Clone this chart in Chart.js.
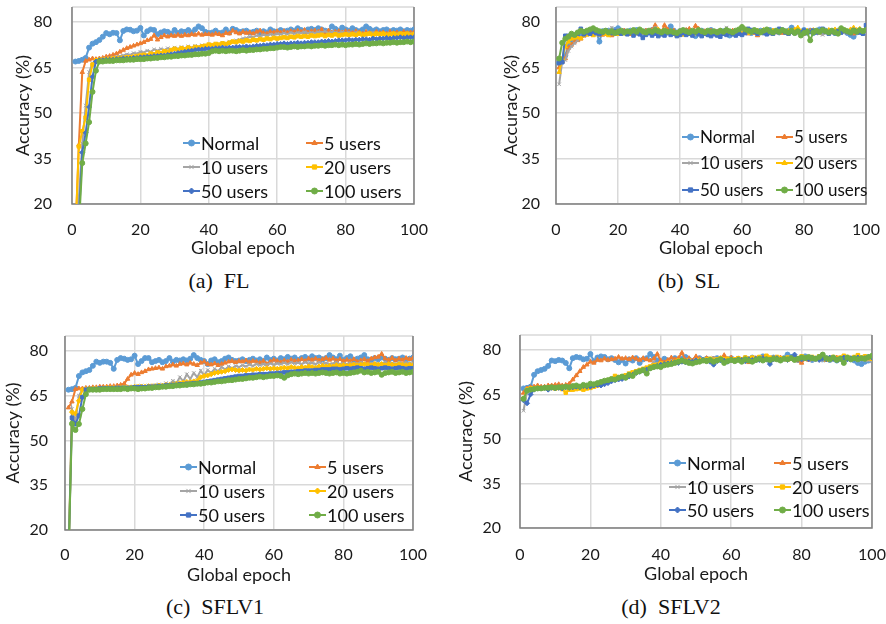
<!DOCTYPE html>
<html lang="en">
<head>
<meta charset="UTF-8" />
<title>Accuracy vs global epoch</title>
<script src="https://cdn.jsdelivr.net/npm/chart.js"></script>
<style>
  body { margin: 0; background: #fff; }
  #page { position: relative; width: 886px; height: 624px; overflow: hidden; }
  .panel { position: absolute; }
  .cap {
    position: absolute; transform: translate(-50%, -50%); white-space: pre;
    font-family: "Liberation Serif", "Times New Roman", serif; font-size: 22px; color: #111;
  }
</style>
</head>
<body>
<div id="page">
  <div class="panel" id="pa"><canvas id="ca"></canvas></div>
  <div class="panel" id="pb"><canvas id="cb"></canvas></div>
  <div class="panel" id="pc"><canvas id="cc"></canvas></div>
  <div class="panel" id="pd"><canvas id="cd"></canvas></div>
  <div class="cap" style="left:219px;top:281px">(a)  FL</div>
  <div class="cap" style="left:689px;top:281px">(b)  SL</div>
  <div class="cap" style="left:215px;top:607px">(c)  SFLV1</div>
  <div class="cap" style="left:671px;top:607px">(d)  SFLV2</div>
</div>
<script>
const epochs = Array.from({ length: 100 }, (_, i) => i + 1);
const seriesNames = ["Normal", "5 users", "10 users", "20 users", "50 users", "100 users"];
const xTicks = [0, 20, 40, 60, 80, 100];
const yTicks = [20, 35, 50, 65, 80];

// (a) FL
const flNormal = [67.0,67.2,67.6,68.2,71.6,72.9,73.4,74.1,75.2,76.4, 76.0,76.5,76.4,74.0,77.1,77.6,77.5,77.0,77.2,78.1,
  75.6,77.0,77.6,77.4,76.0,76.6,77.0,76.8,76.2,77.4, 76.4,77.0,76.8,77.4,76.6,77.6,78.6,78.0,76.8,76.4,
  76.6,77.2,76.4,76.6,77.6,76.6,77.8,77.4,76.8,77.0, 77.2,76.6,76.8,77.2,76.4,77.0,76.6,77.6,77.0,76.8,
  77.4,77.0,77.2,77.6,77.2,78.0,77.4,77.0,77.6,77.8, 77.4,78.0,77.6,77.2,77.0,78.6,77.8,77.2,78.2,77.6,
  77.2,78.0,77.4,77.0,77.6,78.6,77.8,77.2,77.6,77.0, 77.4,77.6,77.0,77.4,77.2,77.6,77.0,77.4,77.2,77.6];
const fl5 = [10,39.5,63.5,67.2,67.6,68.0,67.8,68.0,68.2,68.6, 68.8,69.2,69.6,70.2,70.8,71.4,71.8,72.2,72.6,73.0,
  73.4,74.0,74.4,75.6,74.2,75.0,75.6,75.2,75.6,75.4, 75.8,75.4,75.8,75.6,76.0,75.8,76.2,75.8,76.0,76.0,
  75.8,76.2,76.0,75.6,76.4,76.2,77.2,76.6,76.2,76.8, 76.4,76.6,76.2,76.8,77.2,76.4,76.2,76.8,76.6,77.0,
  76.6,77.0,76.6,77.0,76.8,77.2,76.8,77.4,76.6,77.0, 77.2,76.8,77.6,76.4,77.2,76.6,76.8,77.0,76.6,77.0,
  76.8,76.4,77.0,76.6,76.2,76.8,76.4,76.2,76.8,76.4, 76.6,76.2,76.8,76.4,76.6,76.2,76.8,76.4,76.6,76.6];
const fl10 = [10,22,40,52.5,63.5,66.5,67.4,67.6,67.8,68.0, 68.2,68.4,68.6,68.8,69.0,69.4,69.2,69.8,69.6,70.2,
  70.0,70.6,70.2,71.0,70.6,71.2,70.8,71.4,71.0,71.6, 71.2,71.8,71.4,72.0,71.6,72.2,71.8,72.4,72.0,72.6,
  72.2,72.8,72.6,73.2,72.8,73.6,73.4,74.0,74.2,74.6, 74.8,75.2,75.0,75.6,75.4,75.8,75.6,76.0,75.8,76.2,
  76.0,76.4,76.0,76.6,76.2,76.6,76.4,76.8,76.4,76.6, 76.4,76.8,76.6,77.0,76.4,76.8,76.6,76.4,76.8,76.4,
  76.6,76.2,76.6,76.4,76.0,76.4,76.2,76.6,76.0,76.4, 76.2,76.0,76.4,76.0,76.2,75.8,76.2,76.0,76.2,76.0];
const fl20 = [10,39.0,44,48.5,61.0,66.0,67.4,67.6,67.6,67.8, 67.8,68.0,68.0,68.2,68.2,68.4,68.4,68.6,68.8,69.0,
  69.2,69.0,69.6,69.4,70.0,69.8,70.4,70.2,70.8,71.2, 70.8,71.4,71.0,71.6,71.2,71.8,71.6,72.0,72.2,72.6,
  72.4,72.8,72.6,73.0,72.8,73.2,73.6,73.4,73.8,73.6, 74.0,73.8,74.2,74.0,74.4,74.2,74.6,74.4,74.8,74.6,
  74.8,75.0,74.8,75.2,75.0,75.4,75.2,75.4,75.2,75.6, 75.4,75.6,75.8,75.4,75.8,75.6,76.0,75.6,75.8,76.0,
  75.8,76.0,75.8,76.2,75.8,76.0,76.2,75.8,76.2,76.0, 76.2,75.8,76.0,76.2,75.8,76.2,76.0,76.2,75.8,76.0];
const fl50 = [10,15,37.0,43.5,52.0,62.0,67.0,67.4,67.4,67.6, 67.6,67.6,67.8,67.8,68.0,68.0,68.0,68.2,68.2,68.4,
  68.4,68.6,68.6,68.8,68.8,69.0,69.0,69.2,69.4,69.6, 69.8,70.0,70.2,70.4,70.6,70.8,71.0,71.0,71.2,71.2,
  71.2,71.4,71.4,71.6,71.4,71.6,71.6,71.8,71.8,71.8, 72.0,71.8,72.0,72.2,72.2,72.4,72.4,72.6,72.6,72.8,
  72.8,73.0,72.8,73.0,73.0,73.2,73.0,73.2,73.2,73.4, 73.4,73.4,73.6,73.6,73.8,73.6,73.8,74.0,74.0,74.0,
  74.2,74.0,74.2,74.2,74.4,74.4,74.2,74.6,74.4,74.6, 74.6,74.8,74.6,74.8,74.8,75.0,74.8,75.0,75.0,75.0];
const fl100 = [10,12,33.5,40.0,47.0,57.0,64.0,67.0,67.0,67.2, 67.2,67.2,67.4,67.4,67.4,67.6,67.6,67.6,67.8,67.8,
  67.8,68.0,68.0,68.2,68.2,68.4,68.4,68.6,68.6,68.8, 68.8,69.0,69.0,69.2,69.2,69.4,69.4,69.6,69.6,69.8,
  70.4,70.6,70.4,70.6,70.4,70.6,70.6,70.4,70.6,70.8, 70.6,70.8,70.8,71.0,71.0,71.2,71.2,71.4,71.4,71.6,
  71.8,71.8,71.6,71.8,72.0,71.8,72.0,72.0,72.2,72.0, 72.2,72.2,72.4,72.2,72.4,72.4,72.6,72.4,72.6,72.4,
  72.6,72.6,72.8,72.6,72.8,73.0,72.8,73.0,73.0,73.2, 73.0,73.2,73.2,73.4,73.2,73.4,73.4,73.6,73.4,73.6];

// (b) SL
const slNormal = [66.5,67.0,69.0,72.5,73.5,74.5,75.0,76.0,76.5,76.8, 76.5,77.2,76.8,73.6,77.0,76.8,77.2,76.6,77.4,78.0,
  76.8,77.0,76.4,77.2,76.6,77.4,76.8,76.2,77.0,76.6, 77.4,76.8,77.2,76.4,77.0,76.6,78.6,77.2,76.4,77.0,
  76.6,77.2,76.8,76.2,75.4,76.8,77.2,76.4,76.0,77.4, 76.6,76.8,76.2,77.0,76.6,75.6,76.8,76.2,77.0,76.4,
  76.8,77.2,76.4,77.0,76.6,77.2,76.8,76.4,77.4,76.8, 77.0,76.6,77.4,76.8,77.2,78.2,76.6,77.0,76.8,77.4,
  76.6,77.2,76.4,77.0,77.6,76.8,77.2,76.6,77.0,76.4, 77.2,76.8,77.0,76.4,75.8,75.2,76.6,77.0,76.4,77.0];
const sl5 = [65.0,67.0,68.0,71.5,72.5,73.5,74.0,74.5,75.5,76.0, 76.4,76.0,76.6,76.2,75.8,76.4,76.0,75.6,76.2,77.0,
  76.4,77.2,76.6,76.0,76.8,76.2,77.0,76.6,77.2,76.8, 77.4,79.0,77.2,76.8,79.0,77.6,76.8,77.2,76.4,77.0,
  76.6,77.4,77.8,76.6,78.8,77.8,76.6,77.0,76.4,77.2, 76.0,76.8,77.2,76.4,77.0,76.6,77.2,76.8,76.4,77.0,
  76.6,76.2,76.8,76.4,75.6,76.6,77.0,76.4,76.8,77.2, 76.6,77.0,76.4,76.8,76.2,76.8,77.4,77.0,76.6,76.2,
  76.8,77.2,76.6,77.0,76.4,77.4,76.8,77.2,76.6,77.0, 76.4,76.8,77.2,76.6,77.0,76.2,76.8,77.4,76.6,77.0];
const sl10 = [59.5,67.0,67.5,70.5,72.0,73.0,74.0,75.0,75.5,76.0, 76.6,76.2,76.8,76.4,77.0,76.6,77.2,78.2,76.8,77.2,
  76.6,77.0,76.4,76.8,77.2,76.6,77.0,76.4,77.2,76.8, 77.4,78.2,77.0,76.6,77.2,76.8,77.0,76.4,76.8,77.2,
  76.6,77.0,76.4,77.2,76.8,76.2,77.0,76.6,77.2,76.8, 77.0,76.4,76.8,77.2,78.2,76.8,77.0,76.4,76.8,77.2,
  76.6,77.0,76.4,76.8,77.2,76.6,77.0,76.4,76.0,76.6, 77.0,76.6,77.2,76.8,76.4,77.0,76.6,76.2,76.8,76.4,
  77.0,76.6,77.2,76.8,76.2,75.8,76.4,77.0,76.6,77.2, 76.8,77.2,76.6,77.0,76.4,76.8,77.2,76.6,77.0,76.4];
const sl20 = [63.5,68.0,72.0,73.5,74.5,74.8,75.0,74.6,75.6,75.8, 76.0,75.6,76.2,75.8,76.4,76.0,75.6,76.2,76.4,76.0,
  76.6,76.2,76.8,76.4,76.0,76.6,76.2,76.8,76.4,77.0, 76.6,77.2,77.6,76.8,77.2,76.6,77.0,76.4,75.6,76.2,
  75.8,76.4,76.0,76.6,76.2,76.8,76.4,76.0,76.6,76.2, 76.8,76.4,77.0,76.6,76.2,76.8,76.4,76.0,76.6,76.2,
  76.8,76.4,77.0,76.6,77.2,76.8,77.4,77.0,76.6,77.2, 76.8,77.4,77.0,76.6,77.2,76.8,77.6,78.2,77.0,76.6,
  77.2,76.8,77.4,77.0,76.6,77.2,76.8,77.4,77.0,77.6, 77.2,76.8,77.4,77.0,77.6,78.2,77.4,77.8,77.2,77.6];
const sl50 = [66.5,66.8,75.5,75.5,76.0,75.8,76.2,77.8,76.0,76.6, 76.2,76.8,76.4,76.0,76.6,77.2,76.8,76.4,77.0,76.6,
  76.2,76.8,76.0,76.6,75.6,76.4,76.0,74.8,75.8,76.4, 75.6,76.2,75.4,76.0,75.6,76.4,75.8,76.2,75.4,75.8,
  76.4,75.8,76.2,75.6,76.6,76.0,75.4,76.2,75.8,75.4, 76.0,75.6,75.2,76.2,75.8,76.4,76.0,75.6,76.2,75.8,
  76.4,77.8,77.4,76.8,76.2,76.8,76.4,76.0,76.6,76.2, 76.8,77.8,77.2,76.6,76.2,76.8,76.4,77.0,76.6,77.2,
  76.4,76.8,77.2,76.6,77.0,77.8,76.8,76.2,76.8,76.4, 77.0,76.6,77.2,76.8,76.4,77.4,77.0,76.6,76.2,79.0];
const sl100 = [68.0,73.2,74.5,75.2,76.2,75.8,76.6,77.2,76.8,77.2, 77.6,78.0,77.4,77.0,76.8,77.2,76.6,77.0,76.4,76.8,
  77.2,76.6,77.0,76.8,77.4,76.8,77.6,77.0,76.6,77.2, 76.8,77.4,77.0,76.6,77.2,76.8,77.0,76.6,76.4,77.0,
  77.4,77.0,76.6,77.2,76.8,77.4,77.0,76.6,77.2,76.8, 77.0,76.6,77.2,76.8,77.4,77.0,76.6,77.2,77.6,78.4,
  77.6,77.2,76.8,77.4,77.0,76.6,77.2,77.6,77.0,76.6, 77.2,76.8,77.4,77.0,76.6,77.2,76.4,77.0,75.6,76.4,
  76.8,74.0,76.6,77.2,76.8,77.4,77.0,76.6,77.2,76.6, 76.2,78.0,77.4,77.0,76.6,77.2,76.8,77.4,77.0,77.4];

// (c) SFLV1
const v1Normal = [67.0,67.2,67.6,71.6,72.8,73.2,73.6,75.0,76.4,76.0, 76.4,76.4,76.0,74.0,77.0,77.6,77.4,77.0,77.2,78.4,
  75.6,76.6,77.6,77.6,76.2,76.6,77.0,76.2,76.6,77.6, 76.4,77.0,76.8,77.2,76.8,77.4,78.6,77.6,77.0,76.6,
  75.6,76.8,77.2,76.2,76.6,77.4,77.8,77.0,76.6,76.8, 77.2,76.6,77.0,77.4,76.8,77.2,76.6,77.8,77.0,77.4,
  76.8,77.6,77.2,78.0,77.4,77.8,77.0,77.6,78.0,77.4, 78.2,77.6,77.8,77.2,77.6,78.6,77.8,77.2,78.4,77.0,
  77.6,78.2,77.0,77.4,77.8,78.6,77.2,77.0,77.6,77.2, 77.8,77.4,77.0,77.6,77.2,77.4,77.8,77.0,77.4,77.8];
const v15 = [61.0,63.0,67.2,67.4,67.4,67.6,67.6,67.8,67.8,68.0, 68.0,68.0,68.2,68.2,68.4,68.6,69.0,70.6,72.0,72.6,
  72.2,72.8,73.2,73.8,74.0,74.2,74.4,74.0,74.8,75.0, 75.4,75.0,75.6,75.8,75.4,76.0,75.6,75.2,76.0,76.4,
  75.6,75.4,75.8,75.2,75.6,76.0,76.4,76.6,76.2,76.6, 76.4,76.8,76.2,76.6,76.4,76.0,76.6,75.6,76.4,77.0,
  76.6,76.2,76.8,76.4,77.0,76.6,76.8,77.2,76.6,77.4, 77.0,77.4,76.8,77.2,77.6,77.0,77.4,76.8,77.2,76.6,
  77.0,76.6,77.2,76.4,76.8,77.2,76.6,77.4,77.8,78.0, 79.0,77.4,77.0,77.6,76.8,77.4,77.0,77.6,77.2,77.6];
const v110 = [10,60.5,56.0,65.0,67.0,67.4,67.4,67.4,67.6,67.6, 67.6,67.6,67.8,67.8,67.8,67.8,68.0,67.8,68.0,68.0,
  68.2,68.4,68.0,68.4,68.2,68.6,68.8,68.4,69.2,68.8, 70.0,69.2,71.2,69.8,72.2,70.6,72.6,71.2,73.4,71.8,
  73.6,72.6,74.0,73.2,74.6,73.8,74.8,74.2,75.0,74.6, 75.2,74.8,75.4,75.0,75.6,75.2,75.6,75.4,75.8,75.4,
  75.8,75.6,76.0,75.6,76.2,75.8,76.0,75.6,76.2,75.8, 76.0,75.6,76.2,75.8,76.0,75.6,75.8,76.2,75.6,75.8,
  75.6,76.0,75.6,75.8,76.2,75.8,75.4,75.8,76.0,75.6, 75.8,76.2,75.8,76.0,75.6,76.0,75.8,76.2,75.8,76.0];
const v120 = [10,59.5,59.0,63.3,67.0,67.2,67.2,67.4,67.4,67.4, 67.4,67.6,67.6,67.6,67.6,67.8,67.8,67.8,67.8,68.0,
  68.0,68.0,68.0,68.2,68.2,68.2,68.4,68.4,68.6,68.6, 68.8,69.0,69.2,69.4,69.6,69.6,69.8,70.0,71.2,71.6,
  71.8,72.2,72.6,72.8,73.0,73.2,73.6,73.8,73.6,73.4, 73.6,73.4,73.8,73.6,74.0,73.8,74.0,74.2,74.0,74.2,
  74.0,74.2,74.4,74.2,74.6,74.4,74.2,74.6,74.4,74.8, 74.6,74.4,74.8,75.0,74.8,75.0,74.8,75.2,75.0,75.2,
  75.0,75.2,75.4,75.2,75.4,75.6,75.4,75.2,75.6,75.4, 75.6,75.2,75.6,75.4,75.2,75.6,75.4,75.2,75.4,75.2];
const v150 = [10,57.6,55.5,58.3,64.5,67.0,67.2,67.2,67.2,67.4, 67.4,67.4,67.4,67.4,67.6,67.6,67.6,67.6,67.6,67.8,
  67.8,67.8,67.8,68.0,68.0,68.0,68.2,68.2,68.4,68.4, 68.6,68.6,68.8,68.8,69.0,69.0,69.2,69.2,69.4,69.6,
  69.8,70.0,70.2,70.4,70.6,70.8,71.0,71.2,71.4,71.6, 71.6,71.8,71.8,72.0,72.0,72.2,72.2,72.2,72.4,72.4,
  72.6,72.6,72.8,72.8,73.0,73.0,73.2,73.2,73.4,73.4, 73.4,73.6,73.6,73.8,73.8,73.8,74.0,74.0,73.8,74.0,
  74.2,74.0,74.2,74.4,74.2,74.0,74.2,74.4,74.2,74.0, 74.2,74.4,74.2,74.0,74.2,74.4,74.2,74.0,74.2,74.2];
const v1100 = [10,55.6,53.5,55.5,60.5,65.5,67.0,67.0,67.0,67.0, 67.2,67.2,67.2,67.2,67.2,67.2,67.4,67.2,67.4,67.4,
  67.2,67.4,67.4,67.6,67.6,67.8,67.8,68.0,68.0,68.2, 68.2,68.4,68.4,68.6,68.6,68.8,68.8,69.0,69.0,69.2,
  69.4,69.4,69.6,69.8,69.8,70.0,70.2,70.2,70.4,70.6, 70.6,70.8,71.0,71.0,71.2,71.4,71.2,71.4,71.6,71.6,
  71.8,71.6,71.0,71.8,72.2,72.4,72.2,72.4,72.6,72.4, 72.6,72.4,72.6,72.8,72.6,72.4,72.6,72.8,72.4,72.6,
  72.4,72.6,72.8,73.0,73.4,72.8,73.0,72.6,72.8,73.0, 72.0,72.6,72.8,73.0,72.6,72.8,73.0,72.6,72.8,73.0];

// (d) SFLV2
const v2Normal = [67.0,67.2,67.6,71.6,72.8,73.2,73.6,74.6,76.4,76.2, 76.6,76.4,75.6,73.8,77.2,77.6,77.4,76.8,77.0,78.6,
  76.2,77.4,77.8,77.6,76.8,77.2,76.6,75.8,76.6,75.4, 76.8,76.4,77.2,75.6,76.8,77.2,78.6,77.6,76.4,76.0,
  77.0,76.4,75.8,77.2,76.6,77.0,77.6,76.8,76.2,77.0, 77.2,76.6,77.0,76.4,76.8,77.2,76.6,76.2,76.8,77.2,
  76.6,77.0,76.4,77.2,76.8,77.4,76.6,77.0,77.8,77.2, 76.8,77.4,77.0,76.6,77.2,78.4,77.6,77.0,76.6,77.4,
  77.8,77.2,76.6,77.0,77.4,76.8,77.2,76.6,77.0,76.4, 77.0,76.6,77.2,76.8,76.4,75.6,75.2,76.0,76.4,76.8];
const v25 = [65.5,67.0,67.4,67.6,68.0,67.6,67.6,68.0,68.0,68.2, 68.4,68.0,68.2,68.6,70.0,71.4,72.8,74.2,75.0,76.0,
  75.6,76.6,76.4,77.0,76.6,76.8,77.0,77.6,77.0,77.2, 76.8,77.4,77.0,76.6,77.2,76.8,76.4,77.0,78.6,76.4,
  75.8,76.6,77.4,76.8,77.2,79.0,76.6,77.2,76.4,77.8, 77.0,76.4,77.2,76.8,77.0,76.6,77.2,78.2,76.8,77.4,
  76.6,77.0,76.4,77.2,75.8,76.6,77.2,76.8,77.4,77.0, 76.6,77.2,76.8,77.4,77.0,76.6,77.2,76.8,76.4,75.6,
  77.0,76.6,77.2,76.8,77.4,77.0,76.6,77.2,76.8,77.4, 77.0,76.6,77.2,76.8,77.4,77.8,77.2,77.6,77.0,77.2];
const v210 = [59.5,66.0,66.6,66.8,67.0,67.0,67.2,67.2,67.2,67.4, 67.4,67.4,67.6,67.6,67.8,67.8,68.0,68.0,68.2,68.4,
  68.4,68.6,68.8,69.0,69.4,69.8,70.2,70.6,71.0,71.6, 72.0,72.4,72.8,73.2,73.6,74.0,74.4,76.0,74.8,75.2,
  75.4,75.6,75.8,76.0,75.8,76.2,76.0,76.4,76.2,76.6, 76.4,76.8,76.6,76.4,77.4,76.8,76.6,77.0,76.8,76.4,
  76.8,77.0,76.6,76.8,77.0,76.6,76.8,77.2,76.8,77.0, 76.6,76.8,77.0,76.6,76.8,77.2,76.8,76.6,77.0,76.8,
  77.2,76.8,76.6,77.0,76.8,76.4,76.8,77.0,76.6,76.8, 77.0,76.6,76.8,77.2,76.8,76.4,76.8,76.6,76.4,76.2];
const v220 = [63.5,66.6,67.0,67.0,67.2,67.0,67.2,67.0,67.2,67.0, 67.2,66.8,65.6,66.6,66.6,66.8,67.0,66.6,67.0,67.2,
  67.6,68.0,68.6,69.2,69.8,70.2,71.2,70.8,71.0,71.4, 72.0,72.4,72.8,73.2,73.6,74.0,74.4,74.8,75.0,75.4,
  75.2,75.6,75.8,76.0,76.4,76.2,76.0,76.4,75.8,76.2, 76.6,76.4,76.8,77.0,76.6,76.8,77.2,76.8,77.0,76.6,
  76.8,77.2,76.8,77.4,77.0,77.4,77.0,77.6,77.2,78.0, 77.4,77.0,77.6,77.2,77.0,77.4,77.0,77.6,77.2,77.8,
  77.4,77.0,77.6,77.2,77.8,77.4,76.8,77.2,77.6,77.0, 77.4,78.0,77.6,77.2,77.6,78.2,77.4,77.8,77.2,77.0];
const v250 = [63.0,62.0,65.0,66.6,67.0,67.0,67.2,66.6,67.2,67.0, 67.2,67.0,67.4,67.2,67.4,67.6,67.4,67.8,67.6,67.6,
  68.0,68.2,68.0,68.4,68.8,69.4,69.8,70.0,70.2,70.6, 71.0,71.6,72.2,72.6,73.0,73.4,73.8,74.2,74.6,75.0,
  75.2,75.4,75.6,75.8,75.6,76.0,75.8,76.2,76.0,76.4, 76.2,76.6,76.4,76.0,75.0,76.2,76.6,76.4,76.0,76.6,
  76.4,76.8,76.6,76.2,76.8,76.6,77.0,76.6,77.2,76.8, 75.2,76.8,77.2,76.6,77.0,76.6,77.2,78.4,77.0,76.8,
  77.2,76.8,77.4,77.0,76.6,77.2,76.8,77.4,77.0,76.6, 77.0,77.4,76.8,77.2,77.0,77.4,77.0,77.2,77.6,77.4];
const v2100 = [63.5,66.2,66.6,66.8,67.0,67.0,67.2,67.2,67.4,67.2, 67.4,67.4,67.6,67.4,67.8,68.0,67.6,68.2,68.0,68.6,
  68.4,68.8,69.2,69.6,69.8,70.2,70.0,70.6,71.0,70.6, 71.6,71.2,72.4,72.8,73.2,72.0,73.8,74.2,74.4,74.2,
  74.8,75.0,75.2,75.6,76.0,76.4,76.0,75.6,75.4,75.8, 76.0,76.4,76.2,76.6,76.0,76.4,76.8,75.6,76.2,76.6,
  76.2,76.6,76.0,76.8,76.4,76.0,76.6,77.0,76.4,76.8, 76.6,77.0,76.8,76.4,77.0,76.8,77.2,76.6,77.0,77.4,
  77.2,77.6,77.2,77.0,77.6,78.4,77.2,76.8,77.4,76.6, 77.0,75.6,77.4,76.8,77.2,76.8,77.2,77.0,77.6,78.0];

const colors = ["#5b9bd5", "#ed7d31", "#a5a5a5", "#ffc000", "#4472c4", "#70ad47"];

Chart.defaults.font.family = "Lato, 'Open Sans', sans-serif";
Chart.defaults.color = "#1a1a1a";

// box round the plot area: light top edge, darker left/right/bottom
const frame = {
  id: "frame",
  beforeDatasetsDraw(chart) {
    const { ctx, chartArea: a } = chart;
    ctx.save();
    ctx.lineWidth = 1.5;
    ctx.strokeStyle = "#d9d9d9";
    ctx.beginPath(); ctx.moveTo(a.left, a.top); ctx.lineTo(a.right, a.top); ctx.stroke();
    ctx.strokeStyle = "#7f7f7f";
    ctx.beginPath();
    ctx.moveTo(a.left, a.top); ctx.lineTo(a.left, a.bottom);
    ctx.lineTo(a.right, a.bottom); ctx.lineTo(a.right, a.top);
    ctx.stroke();
    ctx.restore();
  }
};

// two-column legend inside the plot, lower right
const gridLegend = {
  id: "gridLegend",
  afterDatasetsDraw(chart, args, opts) {
    const { ctx, chartArea: a } = chart;
    ctx.save();
    ctx.font = opts.size + "px Lato, 'Open Sans', sans-serif";
    ctx.textBaseline = "middle";
    ctx.textAlign = "left";
    chart.data.datasets.forEach((ds, i) => {
      const x = a.right + (i % 2 ? opts.c2 : opts.c1);
      const y = a.bottom + opts.rows[Math.floor(i / 2)];
      ctx.strokeStyle = ds.borderColor;
      ctx.fillStyle = ds.borderColor;
      ctx.lineWidth = 2;
      ctx.beginPath(); ctx.moveTo(x, y); ctx.lineTo(x + 17, y); ctx.stroke();
      ctx.lineWidth = 1;
      Chart.helpers.drawPoint(ctx, { pointStyle: ds.pointStyle, radius: 3, borderWidth: 1, rotation: 0 }, x + 8.5, y);
      ctx.fillStyle = "#111";
      ctx.fillText(ds.label, x + 18, y + 1);
    });
    ctx.restore();
  }
};

const panels = [
  { el: "pa", canvas: "ca", pos: [0, 0, 443, 262], padTop: 7, padRight: 29, yW: 72, xH: 58,
    yTickPad: 20, yTitlePad: 12, xTickPad: 16,
    series: [flNormal, fl5, fl10, fl20, fl50, fl100],
    markers: ["circle", "triangle", "crossRot", "rect", "rectRot", "circle"],
    legend: { c1: -231, c2: -108, rows: [-61, -37, -13], size: 18 } },
  { el: "pb", canvas: "cb", pos: [443, 0, 443, 262], padTop: 7, padRight: 20, yW: 113, xH: 58,
    yTickPad: 16, yTitlePad: 57, xTickPad: 16,
    series: [slNormal, sl5, sl10, sl20, sl50, sl100],
    markers: ["circle", "triangle", "crossRot", "triangle", "rect", "circle"],
    legend: { c1: -184, c2: -90, rows: [-67, -41, -14], size: 17 } },
  { el: "pc", canvas: "cc", pos: [0, 320, 443, 269], padTop: 16, padRight: 30, yW: 65, xH: 59,
    yTickPad: 17, yTitlePad: 2, xTickPad: 15,
    series: [v1Normal, v15, v110, v120, v150, v1100],
    markers: ["circle", "triangle", "crossRot", "rectRot", "rect", "circle"],
    legend: { c1: -233, c2: -104, rows: [-63, -39, -15], size: 18 } },
  { el: "pd", canvas: "cd", pos: [443, 320, 443, 268], padTop: 15, padRight: 14, yW: 77, xH: 60,
    yTickPad: 19, yTitlePad: 12, xTickPad: 17,
    series: [v2Normal, v25, v210, v220, v250, v2100],
    markers: ["circle", "triangle", "crossRot", "rect", "rectRot", "circle"],
    legend: { c1: -203, c2: -98, rows: [-65, -41, -18], size: 18 } }
];

panels.forEach(p => {
  const box = document.getElementById(p.el);
  box.style.left = p.pos[0] + "px";
  box.style.top = p.pos[1] + "px";
  box.style.width = p.pos[2] + "px";
  box.style.height = p.pos[3] + "px";

  const datasets = p.series.map((vals, i) => ({
    label: seriesNames[i],
    data: vals.map((v, k) => ({ x: epochs[k], y: v })),
    borderColor: colors[i],
    backgroundColor: colors[i],
    pointBackgroundColor: colors[i],
    pointBorderColor: colors[i],
    borderWidth: 2,
    pointRadius: 2.5,
    pointBorderWidth: 1,
    pointStyle: p.markers[i],
    order: 5 - i
  }));

  new Chart(document.getElementById(p.canvas), {
    type: "line",
    data: { datasets },
    options: {
      responsive: true,
      maintainAspectRatio: false,
      animation: false,
      layout: { padding: { top: p.padTop, right: p.padRight, left: 0, bottom: 0 } },
      plugins: { legend: { display: false }, tooltip: { enabled: false }, gridLegend: p.legend },
      scales: {
        x: {
          type: "linear", min: 0, max: 100,
          afterBuildTicks: s => { s.ticks = xTicks.map(v => ({ value: v })); },
          afterFit: s => { s.height = p.xH; s.paddingLeft = 0; s.paddingRight = 0; },
          ticks: { font: { size: 16 }, padding: p.xTickPad, maxRotation: 0 },
          grid: { color: "#d9d9d9", lineWidth: 1.5, drawTicks: false },
          border: { display: false },
          title: { display: true, text: "Global epoch", font: { size: 18 }, color: "#1a1a1a", padding: { top: 3, bottom: 3 } }
        },
        y: {
          min: 20, max: 85,
          afterBuildTicks: s => { s.ticks = yTicks.map(v => ({ value: v })); },
          afterFit: s => { s.width = p.yW; s.paddingTop = 0; s.paddingBottom = 0; },
          ticks: { font: { size: 16 }, padding: p.yTickPad },
          grid: { color: "#d9d9d9", lineWidth: 1.5, drawTicks: false },
          border: { display: false },
          title: { display: true, text: "Accuracy (%)", font: { size: 18 }, color: "#1a1a1a", padding: { top: p.yTitlePad, bottom: 0 } }
        }
      }
    },
    plugins: [frame, gridLegend]
  });
});
</script>
</body>
</html>
